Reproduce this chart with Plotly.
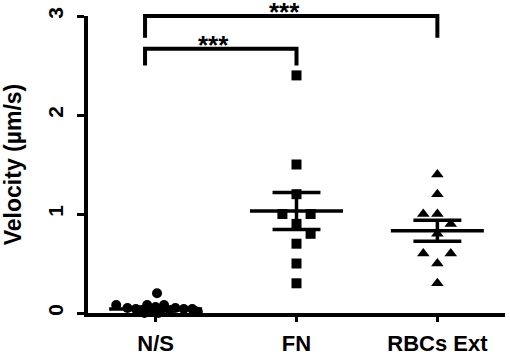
import numpy as np
import plotly.graph_objects as go

categories = ["N/S", "FN", "RBCs Ext"]
ns_values = [0.20, 0.08, 0.08, 0.08, 0.06, 0.05, 0.05, 0.04, 0.04, 0.04,
             0.03, 0.03, 0.03, 0.02, 0.02, 0.01, 0.0, 0.0, -0.02, -0.04]
fn_values = [2.4, 1.5, 1.2, 1.0, 1.0, 0.9, 0.8, 0.7, 0.5, 0.3]
rbc_values = [1.4, 1.2, 1.0, 1.0, 0.9, 0.8, 0.6, 0.6, 0.5, 0.3]
y_ticks = [0, 1, 2, 3]
y_title = "Velocity (µm/s)"
comparisons = [(0, 2, 3.0, 2.78, "***"), (0, 1, 2.67, 2.5, "***")]

# horizontal spread of the dot plot (styling, in category units)
ns_jitter = [0.01, -0.28, -0.06, 0.06, 0.0, -0.2, 0.14, -0.14, 0.2, 0.26,
             -0.1, 0.1, 0.04, 0.28, -0.04, 0.3, -0.08, 0.02, 0.08, 0.01]
fn_jitter = [0, 0, 0, -0.1, 0.1, 0, 0.1, 0, 0, 0]
rbc_jitter = [0, 0, -0.1, 0, 0.095, 0, -0.1, 0.095, 0, 0]

XR = [-0.48, 2.48]
YR = [0, 3]
FONT = "Liberation Sans"

groups = [
    (ns_values, ns_jitter, "circle", 10),
    (fn_values, fn_jitter, "square", 10),
    (rbc_values, rbc_jitter, "triangle-up", 11),
]

fig = go.Figure()
shapes = []
for i, (vals, jit, sym, sz) in enumerate(groups):
    fig.add_trace(go.Scatter(
        x=[i + j for j in jit], y=vals, mode="markers",
        marker=dict(symbol=sym, size=sz, color="black", line=dict(width=0)),
        cliponaxis=False, showlegend=False, hoverinfo="skip"))
    arr = np.array(vals)
    m = arr.mean()
    sem = arr.std(ddof=1) / np.sqrt(len(arr))
    ln = dict(color="black", width=3.5)
    shapes.append(dict(type="line", xref="x", yref="y", x0=i - 0.33, x1=i + 0.33, y0=m, y1=m, line=ln))
    for v in (m - sem, m + sem):
        shapes.append(dict(type="line", xref="x", yref="y", x0=i - 0.17, x1=i + 0.17, y0=v, y1=v, line=ln))
    shapes.append(dict(type="line", xref="x", yref="y", x0=i, x1=i, y0=m - sem, y1=m + sem, line=ln))


def xd(v):
    return (v - XR[0]) / (XR[1] - XR[0])


def yd(v):
    return (v - YR[0]) / (YR[1] - YR[0])


annotations = []
for k, (a, b, ytop, ybot, label) in enumerate(comparisons):
    xa = a - 0.075
    pts = [(xa, ybot), (xa, ytop), (b, ytop), (b, ybot)]
    path = "M " + " L ".join(f"{xd(px):.4f},{yd(py):.4f}" for px, py in pts)
    shapes.append(dict(type="path", xref="x domain", yref="y domain", path=path,
                       line=dict(color="black", width=4)))
    annotations.append(dict(x=(xa + b) / 2 - 0.05, y=ytop, xref="x", yref="y",
                            text=label, showarrow=False, yanchor="middle", yshift=4,
                            font=dict(size=26, color="black", family=FONT, weight="bold")))

fig.update_layout(
    width=510, height=357,
    margin=dict(l=88, r=5, t=16, b=44),
    paper_bgcolor="white", plot_bgcolor="white",
    shapes=shapes, annotations=annotations,
    font=dict(family=FONT, color="black"),
    xaxis=dict(range=XR, tickvals=[0, 1, 2], ticktext=categories, automargin=False,
               showgrid=False, zeroline=False, showline=True, linecolor="black", linewidth=4,
               ticks="outside", ticklen=5, tickwidth=3, tickcolor="black",
               ticklabelstandoff=3,
               tickfont=dict(size=22, family=FONT, color="black", weight="bold")),
    yaxis=dict(range=YR, tickvals=y_ticks, showgrid=False, zeroline=False, automargin=False,
               showline=True, linecolor="black", linewidth=4,
               ticks="outside", ticklen=7, tickwidth=3, tickcolor="black",
               tickangle=-90, ticklabelstandoff=6,
               tickfont=dict(size=21, family=FONT, color="black", weight="bold"),
               title=dict(text=y_title, standoff=26,
                          font=dict(size=23, family=FONT, color="black", weight="bold"))),
)

fig.write_html("out.html", config={"displayModeBar": False},
               post_script="document.body.style.margin='0';")
